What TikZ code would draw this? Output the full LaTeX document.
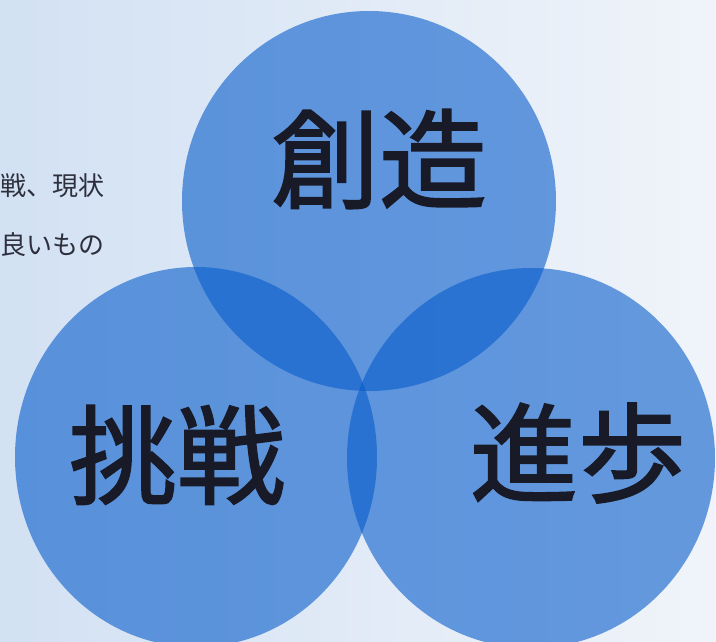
\documentclass[tikz,border=0pt]{standalone}
\usepackage{fontspec}
\usetikzlibrary{shapes.geometric}
\newfontfamily\jp{Noto Sans CJK JP}
\newfontfamily\jpbig[FakeBold=1.6]{Noto Sans CJK JP}
\definecolor{bgleft}{RGB}{210,225,243}
\definecolor{bgright}{RGB}{240,244,250}
\definecolor{circblue}{RGB}{7,92,203}
\definecolor{bigtext}{RGB}{24,26,40}
\definecolor{smalltext}{RGB}{45,48,60}
\tikzset{
  ring/.style 2 args={ellipse, fill=circblue, fill opacity=0.6, draw=none, minimum width=#1, minimum height=#2, inner sep=0pt},
  big/.style={font=\jpbig\fontsize{108}{108}\selectfont, text=bigtext, inner sep=0pt},
  small/.style={font=\jp\fontsize{26}{26}\selectfont, text=smalltext, inner sep=0pt, anchor=west}
}
\begin{document}
\begin{tikzpicture}[x=1pt,y=-1pt]
\useasboundingbox (0,0) rectangle (716,642);
\shade[left color=bgleft, right color=bgright] (0,0) rectangle (716,642);
\node[ring={374pt}{380pt}] (top) at (369,201) {};
\node[ring={362pt}{380pt}] (left) at (196,457) {};
\node[ring={368pt}{380pt}] (right) at (531,458) {};
\node[small] (s1) at (0,186) {戦、現状};
\node[small] (s2) at (0,245) {良いもの};
\node[big] (t1) at (379,159) {創造};
\node[big] (t2) at (177,455) {挑戦};
\node[big] (t3) at (578,453) {進歩};
\end{tikzpicture}
\end{document}
